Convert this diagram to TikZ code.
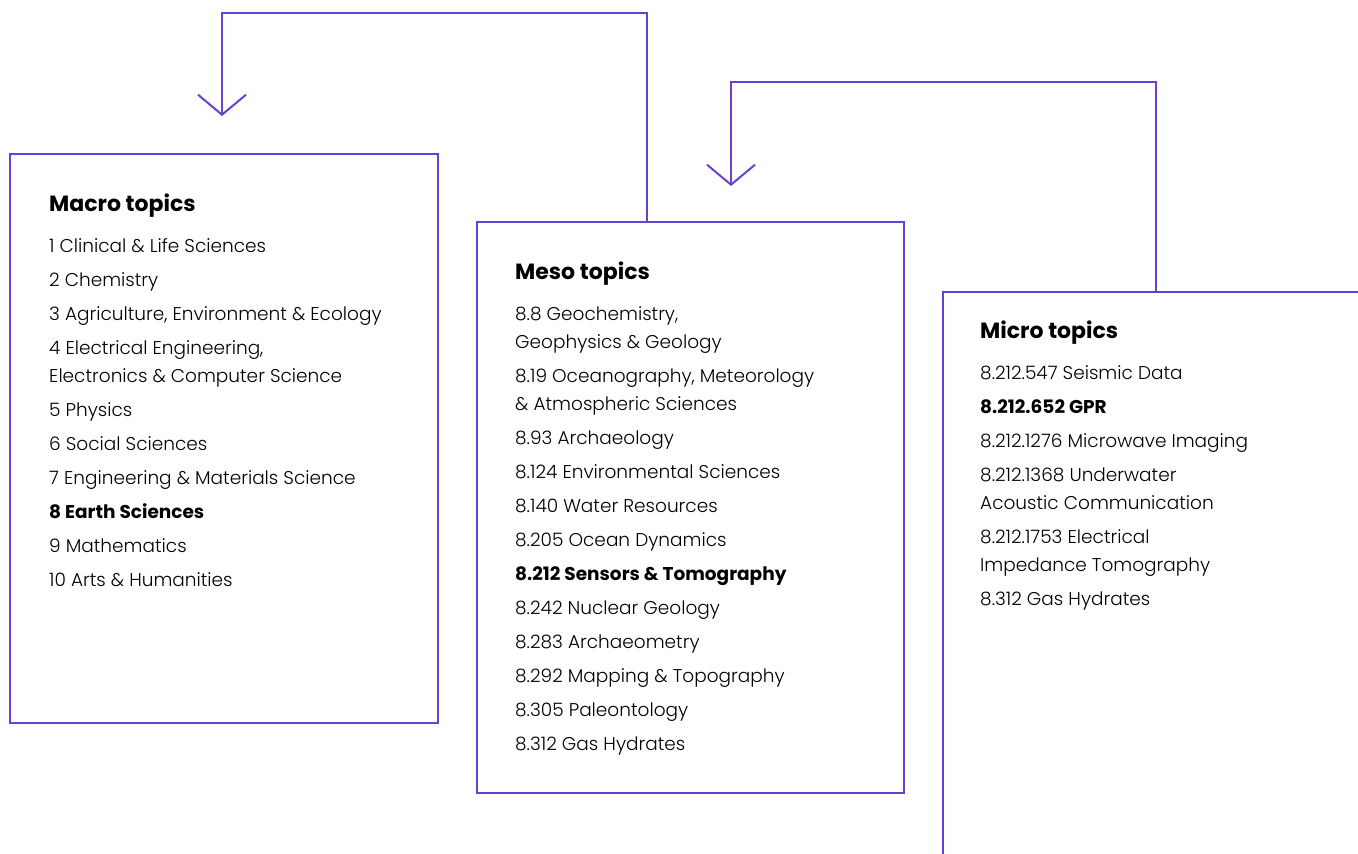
\documentclass[tikz,border=0pt]{standalone}
\usepackage{fontspec}
\setmainfont{Poppins}[UprightFont=*-Light, BoldFont=*-Bold]
\usetikzlibrary{arrows.meta}
\definecolor{topicpurple}{RGB}{104,64,210}
\tikzset{
topicbox/.style={
	  draw=topicpurple, line width=2pt, anchor=north west,
	    inner sep=0pt},
topiclist/.style={
	  anchor=north west, align=left, inner sep=0pt,
	    font=\fontsize{18.5}{28}\selectfont},
flow/.style={
	  draw=topicpurple, line width=2pt,
	    -{Straight Barb[length=20pt, width=48pt, line width=2pt]}}
}
\newcommand{\topichead}[1]{{\fontsize{22}{26}\selectfont\bfseries #1}\\[13pt]}

\begin{document}
\begin{tikzpicture}[x=1pt, y=-1pt]
	\useasboundingbox (0,0) rectangle (1358,854);
	\clip (0,0) rectangle (1358,854);
	\node[topicbox, minimum width=428pt, minimum height=569pt] (macro) at (9,153) {};
	\node[topicbox, minimum width=427pt, minimum height=571pt] (meso) at (476,221) {};
	\node[topicbox, minimum width=460pt, minimum height=600pt] (micro) at (942,291) {};
	\node[topiclist] (macro list) at (49,194) {\topichead{Macro topics}
		1 Clinical \& Life Sciences\\[6pt]
		2 Chemistry\\[6pt]
		3 Agriculture, Environment \& Ecology\\[6pt]
		4 Electrical Engineering,\\ Electronics \& Computer Science\\[6pt]
		5 Physics\\[6pt]
		6 Social Sciences\\[6pt]
		7 Engineering \& Materials Science\\[6pt]
		\textbf{8 Earth Sciences}\\[6pt]
		9 Mathematics\\[6pt]
		10 Arts \& Humanities};
	\node[topiclist] (meso list) at (515,262) {\topichead{Meso topics}
		8.8 Geochemistry,\\ Geophysics \& Geology\\[6pt]
		8.19 Oceanography, Meteorology\\ \& Atmospheric Sciences\\[6pt]
		8.93 Archaeology\\[6pt]
		8.124 Environmental Sciences\\[6pt]
		8.140 Water Resources\\[6pt]
		8.205 Ocean Dynamics\\[6pt]
		\textbf{8.212 Sensors \& Tomography}\\[6pt]
		8.242 Nuclear Geology\\[6pt]
		8.283 Archaeometry\\[6pt]
		8.292 Mapping \& Topography\\[6pt]
		8.305 Paleontology\\[6pt]
		8.312 Gas Hydrates};
	\node[topiclist] (micro list) at (980,321) {\topichead{Micro topics}
		8.212.547 Seismic Data\\[6pt]
		\textbf{8.212.652 GPR}\\[6pt]
		8.212.1276 Microwave Imaging\\[6pt]
		8.212.1368 Underwater\\ Acoustic Communication\\[6pt]
		8.212.1753 Electrical\\ Impedance Tomography\\[6pt]
		8.312 Gas Hydrates};
	% links back up the hierarchy
	\coordinate (meso out) at ([xshift=171pt]meso.north west);
	\coordinate (macro in) at ([xshift=213pt, yshift=37pt]macro.north west);
	\coordinate (micro out) at ([xshift=214pt]micro.north west);
	\coordinate (meso in) at ([xshift=255pt, yshift=35pt]meso.north west);
	\draw[flow] (meso out) -- ++(0,-208) -| (macro in);
	\draw[flow] (micro out) -- ++(0,-209) -| (meso in);
\end{tikzpicture}
\end{document}
